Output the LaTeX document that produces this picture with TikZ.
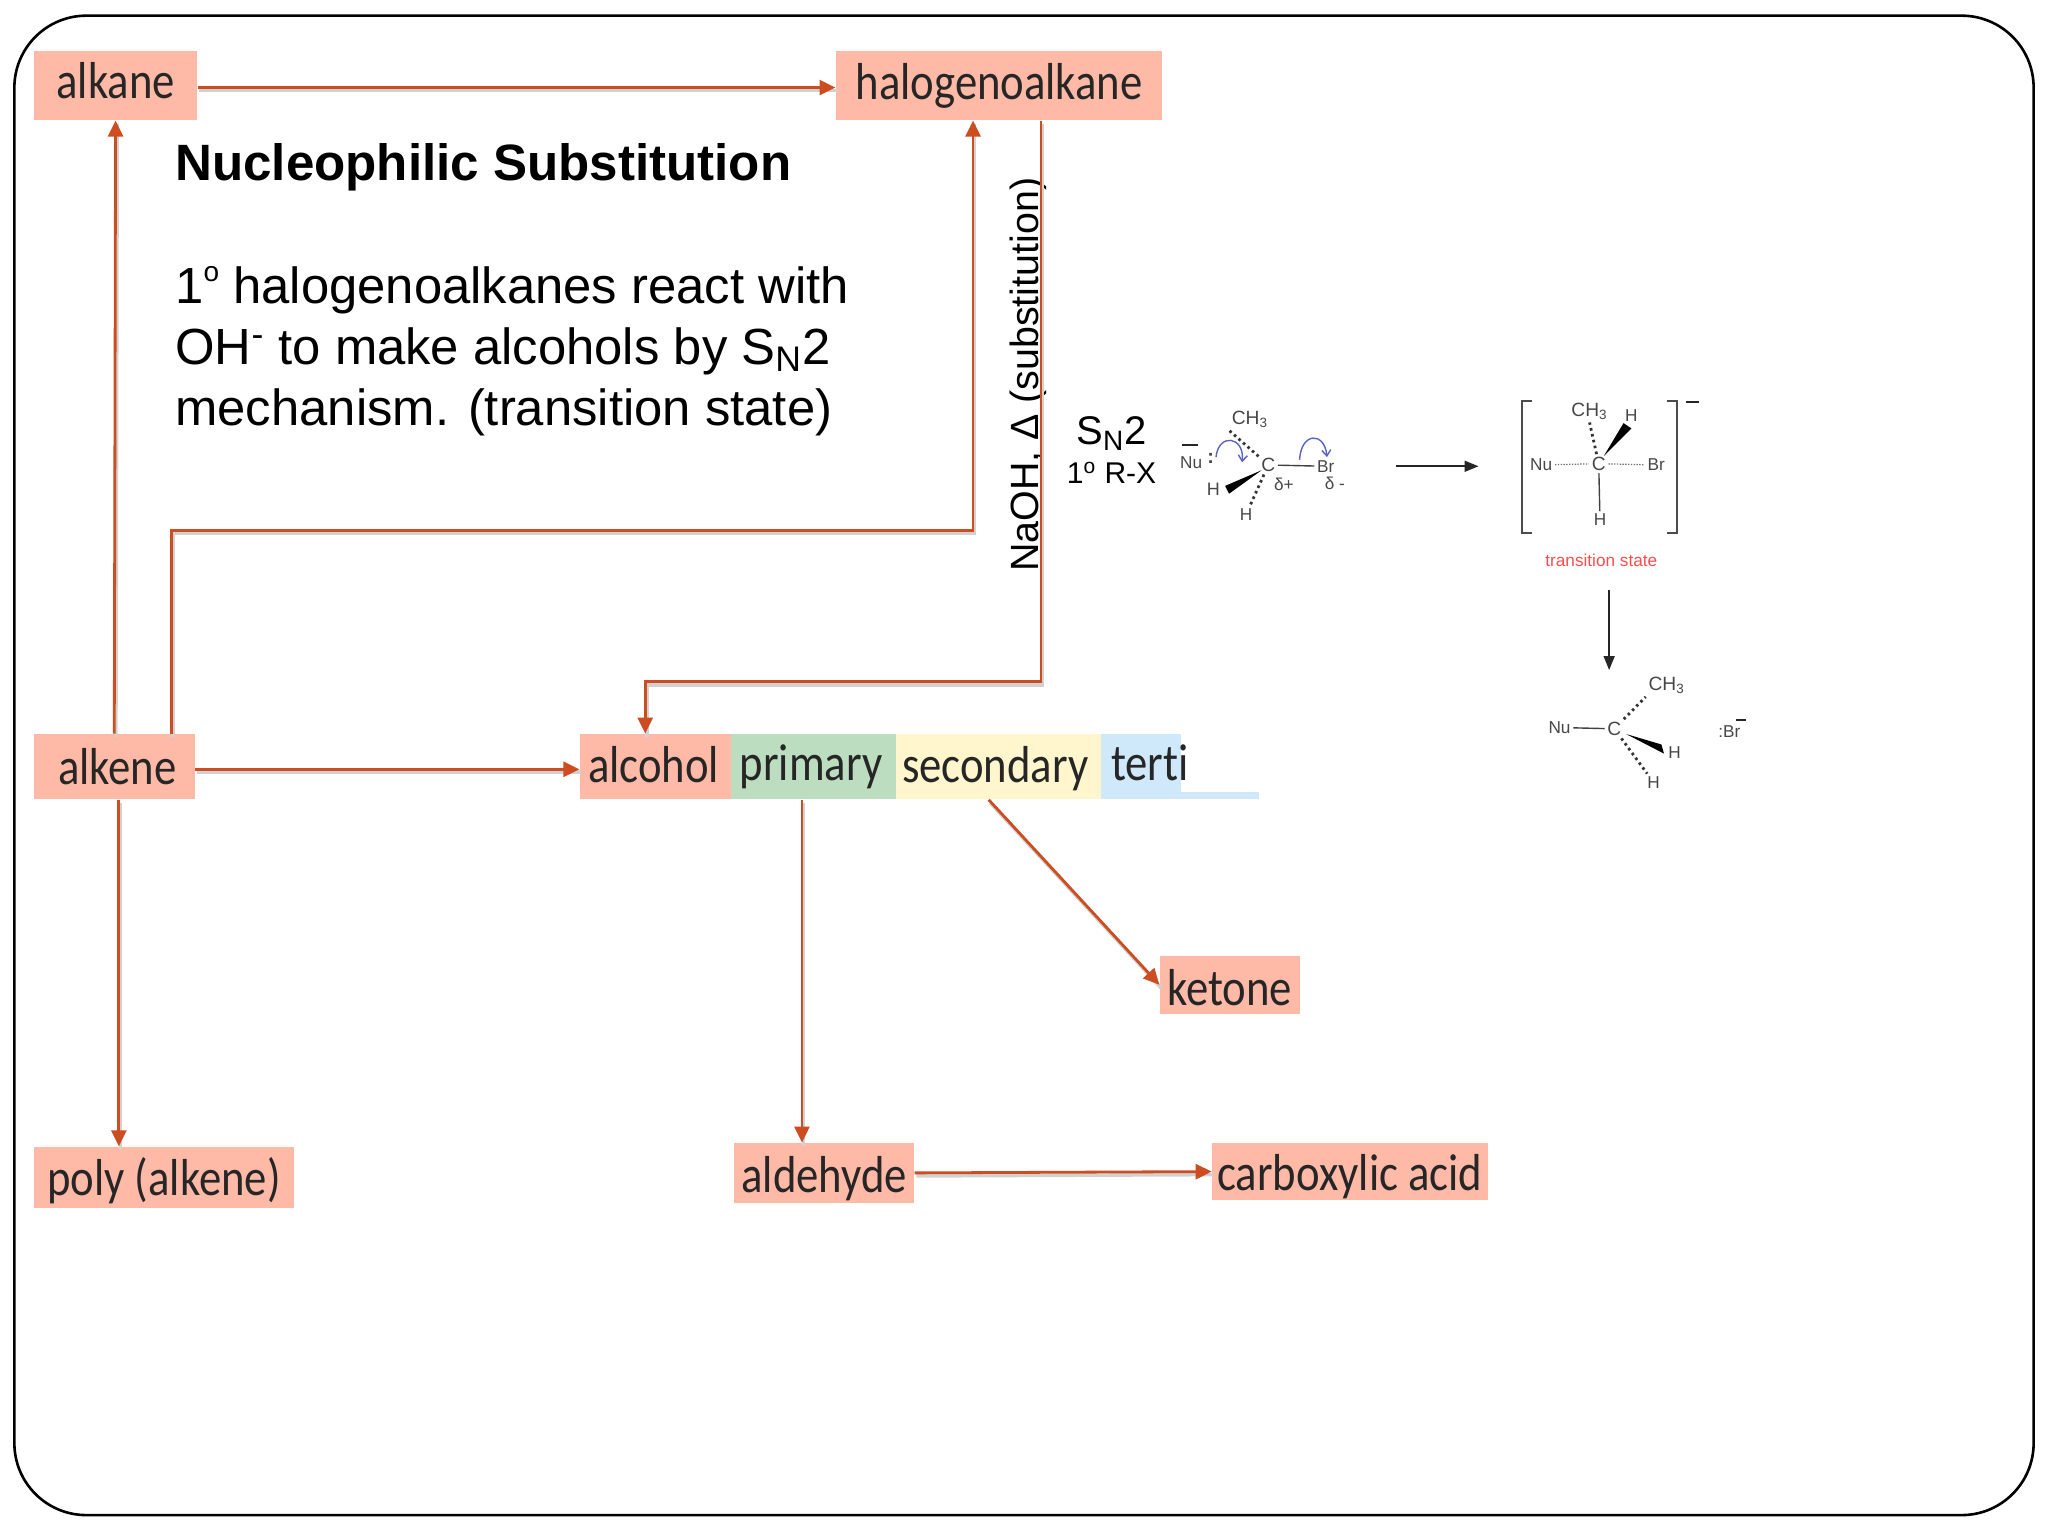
\documentclass[tikz,border=0pt]{standalone}
\usepackage{fontspec}
\setmainfont{Liberation Sans}
\newfontfamily\lab{Carlito}[FakeStretch=0.86,Ligatures=NoCommon]
\usetikzlibrary{arrows.meta,calc}
\definecolor{salmon}{HTML}{FFB9A7}
\definecolor{leaf}{HTML}{BCDDBF}
\definecolor{cream}{HTML}{FFF6CE}
\definecolor{sky}{HTML}{CFE9FA}
\definecolor{rust}{HTML}{CB4D20}
\definecolor{curlblue}{HTML}{5A62C8}
\tikzset{
  x=0.6531pt,y=-0.6531pt,
  lbl/.style={inner sep=0pt,text height=13pt,text depth=4pt,text=black!85,font=\lab\fontsize{26}{28}\selectfont},
  drop/.style={text height=#1},
  arr/.style={draw=rust,line width=1.4pt,-{Triangle[length=8pt,width=7.5pt]},
    preaction={draw=black!18,line width=1.8pt,-,transform canvas={shift={(0.8pt,-1.5pt)}}}},
  chem/.style={inner sep=1.2pt,text=black!72,font=\fontsize{8.6}{9}\selectfont},
  bond/.style={draw=black!75,line width=0.7pt},
  minusb/.style={draw=black!85,line width=1.1pt},
  hashb/.style={draw=black!80,line width=1.4pt,dash pattern=on 1.3pt off 1.7pt},
  dotb/.style={draw=black!55,line width=0.6pt,dash pattern=on 0.7pt off 0.7pt},
  brk/.style={draw=black!70,line width=0.9pt},
  blk/.style={draw=black!85,line width=0.8pt,-{Triangle[length=7pt,width=5.5pt]}},
  curl/.style={draw=curlblue,line width=0.7pt,-{Straight Barb[length=3pt,width=4.5pt]}},
  para/.style={inner sep=0pt,anchor=base west,font=\fontsize{25.4}{30}\selectfont},
}
\begin{document}
\begin{tikzpicture}
\useasboundingbox (0,0) rectangle (1568,1176);
\draw[line width=1.3pt,rounded corners=36pt] (11,12) rectangle (1557,1160);

% boxes
\fill[sky] (904,606) rectangle (964,612);
\node[lbl,drop=17pt,fill=salmon,minimum width=81.6pt,minimum height=34.6pt] (alkane) at (88.5,65.5) {alkane};
\node[lbl,drop=18.2pt,fill=salmon,minimum width=163.3pt,minimum height=34.6pt] (halo) at (765,65.5) {halogenoalkane};
\node[lbl,drop=19.5pt,fill=salmon,minimum width=75.8pt,minimum height=32.7pt] (alcohol) at (502,587) {alcohol\hspace*{2pt}};
\node[lbl,drop=18.2pt,fill=leaf,minimum width=82.3pt,minimum height=32.7pt] (primary) at (623,587) {primary\hspace*{2.6pt}};
\node[lbl,drop=19.5pt,fill=cream,minimum width=102.5pt,minimum height=32.7pt] (secondary) at (764.5,587) {secondary\hspace*{3.3pt}};
\node[lbl,drop=18.2pt,fill=sky,minimum width=39.8pt,minimum height=32.7pt] (tertiary) at (873.5,587) {\makebox[39.8pt][l]{\hspace*{5pt}terti}};
\node[lbl,drop=22pt,fill=salmon,minimum width=80.3pt,minimum height=32.7pt] (alkene) at (87.5,587) {\hspace*{3pt}alkene};
\node[lbl,drop=22pt,fill=salmon,minimum width=130pt,minimum height=30.7pt] (poly) at (125.5,901.5) {poly (alkene)};
\node[lbl,drop=23.4pt,fill=salmon,minimum width=90.1pt,minimum height=30pt] (aldehyde) at (631,898) {aldehyde};
\node[lbl,drop=23.4pt,fill=salmon,minimum width=137.8pt,minimum height=28.7pt] (acid) at (1033.5,897) {carboxylic acid};
\node[lbl,drop=24.8pt,fill=salmon,minimum width=69.9pt,minimum height=28.7pt] (ketone) at (941.5,754) {ketone};

% text
\node[para,font=\bfseries\fontsize{25.55}{30}\selectfont] (title) at (134,138) {Nucleophilic Substitution};
\node[para] (l1) at (134,232) {1\raisebox{0.42em}{\fontsize{14}{14}\selectfont o} halogenoalkanes react with};
\node[para] (l2) at (134,279) {OH\textsuperscript{-} to make alcohols by S\textsubscript{N}2};
\node[para] (l3) at (134,326) {mechanism. (transition state)};
\node[inner sep=0pt,rotate=90,font=\fontsize{19.7}{24}\selectfont] (naoh) at (787,287) {NaOH, Δ (substitution)};
\node[inner sep=0pt,font=\fontsize{20}{24}\selectfont] (sn2) at (851,332) {S\textsubscript{N}2};
\node[inner sep=0pt,font=\fontsize{15}{18}\selectfont] (rx) at (851,362) {1\textsuperscript{o} R-X};

% connectors
\coordinate (b1) at (131,406);
\coordinate (b2) at (745,406);
\coordinate (b3) at (797,522);
\coordinate (b4) at (494,522);
\draw[arr] ([yshift=-1pt]alkane.east) -- ([yshift=-1pt]halo.west);
\draw[arr] (alkene.north) -- (alkane.south);
\draw[arr] (alkene.north -| b1) -- (b1) -- (b2) -- (halo.south -| b2);
\draw[arr] (halo.south -| b3) -- (b3) -- (b4) -- (alcohol.north -| b4);
\draw[arr] ([yshift=-1.3pt]alkene.east) -- ([yshift=-1.3pt]alcohol.west);
\coordinate (b5) at (91,0);
\coordinate (b6) at (614,0);
\coordinate (b7) at (757,0);
\draw[arr] (alkene.south -| b5) -- (poly.north -| b5);
\draw[arr] (primary.south -| b6) -- (aldehyde.north -| b6);
\draw[arr] (secondary.south -| b7) -- (ketone.west);
\draw[arr] (aldehyde.east) -- (acid.west);

% reactant
\node[chem] (nu1) at (912,354) {Nu};
\node[chem,font=\bfseries\fontsize{10}{10}\selectfont] (col1) at (927,351) {:};
\node[chem,font=\fontsize{9.6}{10}\selectfont] (ch1) at (957,321) {CH\textsubscript{3}};
\node[chem,font=\fontsize{9.6}{10}\selectfont] (c1) at (971,356) {C};
\node[chem] (br1) at (1015,357) {Br};
\node[chem,font=\fontsize{9}{10}\selectfont] (ha) at (929,375) {H};
\node[chem] (hb) at (954,394) {H};
\node[chem] (dp) at (983,371) {δ+};
\node[chem] (dm) at (1022,370) {δ -};
\draw[minusb] (905,341) -- (917,341);
\draw[bond] (c1) -- (br1);
\draw[hashb] (c1) -- (ch1.south west);
\draw[hashb] (c1) -- (hb);
\fill[black] (966,360) -- (938,372) -- (941,378) -- cycle;
\draw[curl] (931,350) .. controls (933,331) and (953,334) .. (951,354);
\draw[curl] (995,352) .. controls (996,331) and (1014,330) .. (1016,350);
\coordinate (a1s) at (1069,357);
\coordinate (a1e) at (1132,357);
\draw[blk] (a1s) -- (a1e);

% transition state
\node[chem,font=\fontsize{9.6}{10}\selectfont] (ch2) at (1217,315) {CH\textsubscript{3}};
\node[chem] (h2a) at (1249,318) {H};
\node[chem,font=\fontsize{9.6}{10}\selectfont] (c2) at (1224,355) {C};
\node[chem] (nu2) at (1180,356) {Nu};
\node[chem] (br2) at (1268,356) {Br};
\node[chem] (h2b) at (1225,398) {H};
\node[chem,text=red!70,font=\fontsize{8.6}{10}\selectfont] (ts) at (1226,429) {transition state};
\draw[brk] (1173,307) -- (1165,307) -- (1165,408) -- (1173,408);
\draw[brk] (1276,307) -- (1284,307) -- (1284,408) -- (1276,408);
\draw[minusb] (1291,308) -- (1301,308);
\draw[dotb] (nu2) -- (c2);
\draw[dotb] (c2) -- (br2);
\draw[bond] (c2) -- (h2b);
\draw[hashb] (c2) -- (ch2.south);
\fill[black] (1228,349) -- (1243,324) -- (1249,328) -- cycle;
\coordinate (a2s) at (1232,452);
\coordinate (a2e) at (1232,513);
\draw[blk] (a2s) -- (a2e);

% product
\node[chem,font=\fontsize{9.6}{10}\selectfont] (ch3) at (1276,525) {CH\textsubscript{3}};
\node[chem,font=\fontsize{9.6}{10}\selectfont] (c3) at (1236,558) {C};
\node[chem] (nu3) at (1194,557) {Nu};
\node[chem] (h3a) at (1282,576) {H};
\node[chem] (h3b) at (1266,599) {H};
\node[chem] (br3) at (1324,560) {:Br};
\draw[minusb] (1329,551) -- (1337,551);
\draw[bond] (nu3) -- (c3);
\draw[hashb] (c3) -- (ch3.south west);
\draw[hashb] (c3) -- (h3b);
\fill[black] (1245,562) -- (1272,570) -- (1274,577) -- cycle;
\end{tikzpicture}
\end{document}
